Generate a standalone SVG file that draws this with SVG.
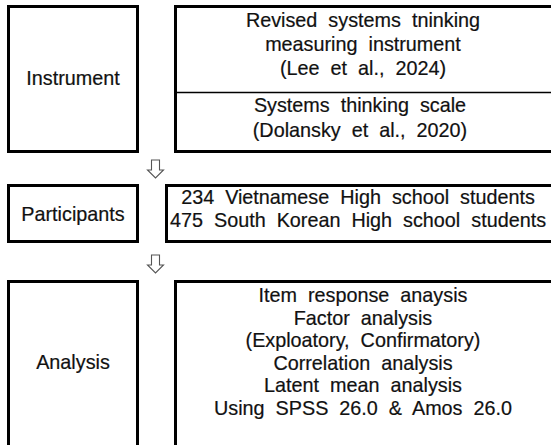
<svg xmlns="http://www.w3.org/2000/svg" width="551" height="445" viewBox="0 0 551 445">
  <style>
    .box { fill: #ffffff; stroke: #000000; stroke-width: 3; }
    .rule { stroke: #000000; stroke-width: 1.4; }
    .label { font-family: "Liberation Sans", Arial, sans-serif; font-size: 19.8px; fill: #111111; stroke: #111111; stroke-width: 0.2; text-anchor: middle; }
    .body { word-spacing: 5.5px; }
    .flow { fill: #ffffff; stroke: #555555; stroke-width: 1.1; stroke-linejoin: miter; }
  </style>
  <defs>
    <!-- hollow downward arrow used between stages -->
    <path id="down" d="M -4 0 H 4 V 10 H 8 L 0 18 L -8 10 H -4 Z"/>
  </defs>

  <g id="instrument">
    <rect class="box" x="8.5" y="6.5" width="129" height="145"/>
    <text class="label" x="73" y="85">Instrument</text>
  </g>
  <g id="instrument-detail">
    <rect class="box" x="175.5" y="6.5" width="390" height="145"/>
    <line class="rule" x1="175.5" y1="92.5" x2="551" y2="92.5"/>
    <text class="label body" x="363" y="27">Revised systems tninking</text>
    <text class="label body" x="363" y="51">measuring instrument</text>
    <text class="label body" x="363" y="75">(Lee et al., 2024)</text>
    <text class="label body" x="360" y="112">Systems thinking scale</text>
    <text class="label body" x="360" y="137">(Dolansky et al., 2020)</text>
  </g>

  <g id="participants">
    <rect class="box" x="8.5" y="185.5" width="129" height="56"/>
    <text class="label" x="73" y="221">Participants</text>
  </g>
  <g id="participants-detail">
    <rect class="box" x="166.5" y="185.5" width="400" height="56"/>
    <text class="label body" x="358" y="204">234 Vietnamese High school students</text>
    <text class="label body" x="358" y="227">475 South Korean High school students</text>
  </g>

  <g id="analysis">
    <rect class="box" x="8.5" y="281.5" width="129" height="180"/>
    <text class="label" x="73" y="369">Analysis</text>
  </g>
  <g id="analysis-detail">
    <rect class="box" x="175.5" y="281.5" width="390" height="180"/>
    <text class="label body" x="363" y="302">Item response anaysis</text>
    <text class="label body" x="363" y="325">Factor analysis</text>
    <text class="label body" x="363" y="347">(Exploatory, Confirmatory)</text>
    <text class="label body" x="363" y="370">Correlation analysis</text>
    <text class="label body" x="363" y="392">Latent mean analysis</text>
    <text class="label body" x="363" y="415">Using SPSS 26.0 &amp; Amos 26.0</text>
  </g>

  <g id="connectors">
    <use href="#down" class="flow" x="155.5" y="160"/>
    <use href="#down" class="flow" x="155.5" y="255"/>
  </g>
</svg>
